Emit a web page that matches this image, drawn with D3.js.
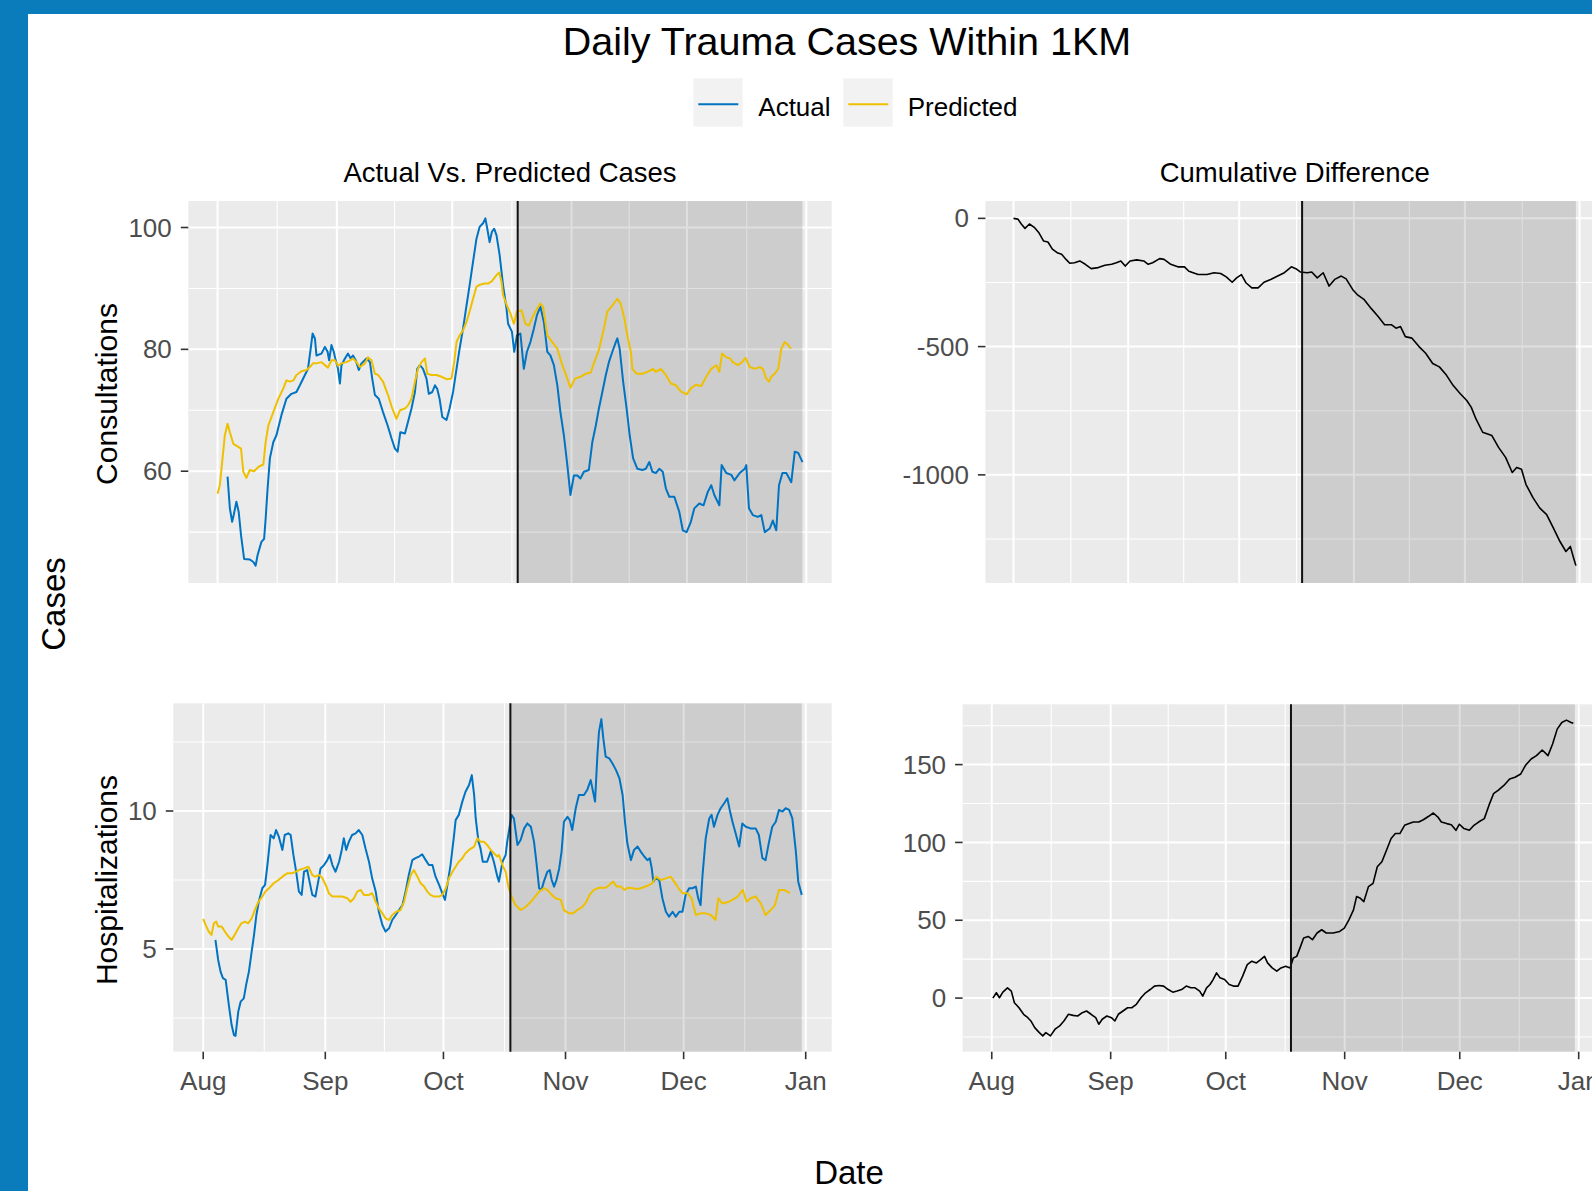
<!DOCTYPE html>
<html>
<head>
<meta charset="utf-8">
<script src="https://cdn.jsdelivr.net/npm/d3@7"></script>
<style>
  body { margin: 0; background: #fff; }
  svg { display: block; font-family: "Liberation Sans", Arial, sans-serif; }
</style>
</head>
<body>
<svg id="chart"></svg>
<script>
var width = 1592;
var height = 1191;

// days counted from Aug 1
var startDate = new Date(2020, 7, 1);
var cutoffDay = 78;     // Oct 18, start of the shaded period
var shadeEndDay = 152;  // Dec 31

var blue = "#0073C2";
var yellow = "#EFC000";

var seriesNames = ["Actual", "Predicted"];
var panelTitles = ["Actual Vs. Predicted Cases", "Cumulative Difference"];
var rowTitles = ["Consultations", "Hospitalizations"];

// [day, value]
var consActual = [[2.6,59.1],[3.2,53.9],[3.8,51.7],[4.2,52.8],[4.9,55.0],[5.5,53.3],[6.1,49.5],[6.9,45.6],[8.4,45.5],[9.3,45.1],[9.9,44.5],[10.4,46.2],[11.4,48.4],[12.1,48.9],[12.5,52.2],[13.0,57.1],[13.6,62.1],[14.5,64.8],[15.3,65.9],[16.6,69.2],[17.9,71.9],[19.2,72.7],[20.5,73.0],[21.4,74.1],[22.7,75.8],[23.5,76.8],[24.2,80.1],[24.7,82.6],[25.3,81.8],[25.7,79.0],[27.0,79.3],[27.9,80.4],[28.6,79.6],[29.0,78.2],[29.6,80.7],[30.2,79.6],[30.6,78.5],[31.3,76.8],[31.8,74.4],[32.2,77.4],[33.1,78.5],[33.9,79.3],[34.6,78.5],[35.2,79.0],[35.9,78.2],[36.7,76.6],[37.4,77.7],[38.7,78.5],[39.6,77.9],[40.2,75.2],[40.9,72.5],[41.9,71.9],[43.0,69.7],[44.2,67.5],[45.2,65.4],[46.1,63.7],[46.8,63.2],[47.5,66.4],[48.7,66.2],[49.5,68.1],[50.4,70.3],[51.3,73.0],[51.9,76.8],[52.6,77.4],[53.4,76.8],[54.3,75.2],[54.9,72.7],[55.8,73.0],[56.5,74.1],[57.1,73.5],[57.7,71.9],[58.4,68.9],[59.5,68.4],[60.3,70.3],[61.2,73.0],[62.1,76.8],[62.9,80.1],[63.8,83.4],[64.7,87.2],[65.5,90.5],[66.4,94.4],[67.3,98.2],[68.1,100.1],[69.0,100.7],[69.6,101.5],[70.1,99.8],[70.7,97.6],[71.3,99.3],[71.9,99.8],[72.5,98.7],[73.3,95.5],[74.2,90.5],[75.1,86.7],[75.5,84.2],[76.5,82.9],[77.1,79.6],[77.8,82.3],[78.7,82.6],[79.6,76.8],[80.4,79.6],[81.3,81.2],[82.2,83.4],[83.0,85.6],[83.9,87.0],[84.8,84.5],[85.7,79.6],[86.5,79.0],[87.4,77.4],[88.3,74.1],[89.1,69.7],[90.0,65.9],[90.9,61.0],[91.7,56.1],[92.6,59.3],[93.5,59.3],[94.3,58.8],[95.2,59.9],[96.5,60.2],[97.4,64.8],[98.3,67.5],[99.1,70.3],[100.0,73.0],[100.9,75.8],[101.7,77.9],[102.6,79.6],[103.5,81.2],[103.9,81.8],[104.5,80.1],[105.4,74.7],[106.3,70.3],[107.1,65.9],[108.0,62.1],[109.1,60.4],[110.4,60.2],[111.3,60.4],[112.2,61.5],[113.0,59.9],[113.9,59.7],[114.8,60.4],[115.7,59.9],[116.5,57.2],[117.4,55.8],[118.7,55.8],[120.0,53.3],[120.9,50.3],[121.9,50.0],[123.0,51.7],[123.9,53.9],[125.2,54.7],[126.3,54.4],[127.4,56.6],[128.3,57.7],[129.1,56.1],[130.4,54.4],[131.0,61.0],[132.2,59.7],[133.5,59.4],[134.3,58.5],[135.7,59.7],[137.0,60.4],[137.4,61.0],[138.1,53.9],[139.1,52.8],[140.4,52.5],[141.3,52.8],[142.2,50.0],[143.5,50.6],[144.3,51.9],[145.2,50.3],[145.9,57.7],[146.8,59.7],[147.8,59.7],[149.1,58.2],[150.0,63.2],[150.9,63.0],[152.0,61.5]];

var consPredicted = [[0,56.3],[0.6,57.7],[1.2,61.5],[1.9,65.9],[2.6,67.8],[3.2,66.4],[4.1,64.5],[5.4,64.0],[6.1,63.7],[6.7,59.9],[7.5,58.9],[8.4,60.2],[9.5,60.0],[10.6,60.7],[11.9,61.1],[12.5,64.8],[13.2,67.5],[14.5,69.7],[15.8,71.9],[17.1,73.6],[17.9,74.9],[18.8,74.7],[19.7,74.9],[20.5,75.8],[21.8,76.4],[23.1,76.6],[24.0,77.1],[24.8,77.7],[25.7,77.7],[27.0,77.9],[28.7,77.0],[29.6,78.2],[30.5,78.2],[31.3,77.3],[32.2,77.7],[33.5,77.9],[34.4,78.2],[35.2,78.5],[36.1,77.9],[37.0,77.1],[38.3,77.7],[39.1,78.7],[40.0,78.2],[40.9,76.0],[41.7,75.8],[43.0,74.7],[44.3,72.5],[45.4,70.3],[46.5,68.6],[47.4,70.0],[48.7,70.3],[49.5,70.8],[50.4,71.9],[51.3,74.7],[52.1,76.8],[53.0,77.9],[53.9,78.5],[54.5,76.0],[55.6,75.8],[56.9,75.8],[58.2,75.5],[59.5,75.1],[60.8,75.2],[61.5,77.9],[62.1,81.2],[62.9,82.3],[63.8,83.1],[64.7,84.5],[65.5,86.2],[66.4,88.3],[67.3,90.3],[68.1,90.6],[69.4,90.8],[70.3,90.8],[71.3,91.2],[72.5,92.2],[73.2,92.6],[73.8,91.1],[74.2,88.9],[75.2,87.2],[76.1,85.9],[77.0,84.2],[77.8,86.2],[79.0,86.4],[80.0,84.2],[80.9,83.9],[81.7,85.1],[82.6,86.2],[83.9,87.5],[84.6,87.0],[85.7,82.3],[87.0,81.2],[88.3,80.1],[89.6,77.4],[90.9,75.2],[91.7,73.7],[92.9,75.2],[94.3,75.5],[95.7,76.0],[97.0,76.2],[97.8,77.7],[99.1,79.9],[100.4,83.4],[101.3,86.2],[102.6,87.2],[103.9,88.3],[104.8,87.5],[105.7,85.1],[106.5,82.3],[107.4,79.6],[107.8,76.8],[108.9,76.0],[110.4,76.0],[111.7,76.3],[113.2,76.8],[113.9,76.3],[115.2,76.8],[116.5,75.8],[117.8,74.4],[119.1,74.1],[120.4,73.1],[121.9,72.6],[123.0,73.6],[124.3,74.2],[125.7,74.0],[127.0,75.5],[128.3,76.8],[129.6,77.4],[130.4,76.3],[131.1,79.3],[132.2,78.7],[133.2,78.5],[133.9,77.9],[135.2,77.4],[136.3,77.9],[137.2,78.6],[138.3,77.1],[139.6,76.8],[140.9,77.1],[141.7,76.8],[142.6,75.2],[143.3,74.7],[143.9,75.5],[144.8,76.0],[145.7,76.8],[146.5,80.1],[147.4,81.2],[148.3,80.7],[149.0,80.1]];

var hospActual = [[3.1,5.33],[3.8,4.60],[4.4,4.18],[5.0,3.94],[5.7,3.88],[6.5,2.97],[7.2,2.25],[7.8,1.88],[8.2,1.85],[8.9,2.73],[9.5,3.09],[10.3,3.21],[10.9,3.70],[11.6,4.18],[12.3,4.90],[12.9,5.51],[13.5,6.23],[14.1,6.71],[15.0,7.20],[15.7,7.32],[16.3,8.04],[17.1,9.13],[17.9,9.01],[18.5,9.31],[19.2,9.07],[20.1,8.59],[20.7,9.13],[21.6,9.19],[22.2,9.13],[22.9,8.41],[23.6,7.80],[24.3,7.08],[25.0,6.96],[25.6,7.80],[26.4,7.86],[27.0,7.44],[27.7,6.96],[28.5,6.90],[29.2,7.44],[29.8,7.92],[30.7,8.04],[31.5,8.22],[32.1,8.41],[32.8,8.04],[33.6,7.80],[34.5,8.16],[35.1,8.53],[35.7,9.01],[36.3,8.59],[37.0,8.89],[37.8,9.13],[38.7,9.19],[39.5,9.31],[40.4,9.13],[41.2,8.65],[42.1,8.16],[42.9,7.56],[43.8,7.08],[44.6,6.35],[45.5,5.87],[46.3,5.63],[47.2,5.75],[48.0,6.05],[48.9,6.23],[49.7,6.41],[50.6,6.59],[51.4,7.08],[52.2,7.68],[53.1,8.22],[53.9,8.29],[54.8,8.35],[55.6,8.43],[56.5,8.22],[57.3,8.04],[58.2,8.04],[59.0,7.62],[59.9,7.32],[60.7,7.02],[61.4,6.78],[62.0,7.32],[62.8,8.04],[63.7,9.13],[64.1,9.67],[64.9,9.86],[65.8,10.34],[66.6,10.70],[67.5,10.94],[68.2,11.30],[68.8,10.58],[69.2,9.73],[69.9,8.89],[70.4,8.65],[71.0,8.16],[72.1,8.16],[73.0,8.53],[73.8,8.16],[74.7,7.62],[75.1,7.44],[76.0,8.16],[76.8,8.41],[77.2,8.89],[78.3,9.86],[78.9,9.73],[79.8,8.77],[80.6,8.95],[81.5,9.37],[82.3,9.55],[83.2,9.43],[84.0,8.89],[84.6,8.16],[85.3,7.20],[85.9,7.14],[86.5,7.44],[87.4,7.80],[88.0,7.86],[88.5,7.50],[89.1,7.26],[89.7,7.50],[90.4,7.92],[91.0,8.53],[91.6,9.61],[92.5,9.79],[93.1,9.67],[93.7,9.31],[94.6,10.10],[95.4,10.58],[96.7,10.58],[97.5,10.76],[98.4,11.12],[99.0,10.70],[99.5,10.34],[100.1,12.03],[100.5,12.87],[101.1,13.33],[101.6,12.63],[102.2,11.97],[103.1,11.91],[103.9,11.73],[104.8,11.49],[105.7,11.18],[106.5,10.58],[107.1,9.61],[107.7,8.83],[108.6,8.22],[109.4,8.59],[110.3,8.71],[111.1,8.53],[112.0,8.35],[112.8,8.22],[113.4,8.29],[113.9,7.92],[114.3,7.44],[114.9,7.56],[115.8,7.50],[116.6,6.84],[117.5,6.35],[118.3,6.17],[119.2,6.35],[120.0,6.17],[120.9,6.35],[121.7,6.35],[122.5,6.96],[123.4,7.20],[124.2,7.20],[125.1,7.26],[125.7,6.84],[126.3,6.59],[126.8,7.68],[127.6,9.01],[128.5,9.73],[129.1,9.86],[129.7,9.43],[130.6,9.86],[131.4,10.10],[132.3,10.28],[133.1,10.46],[133.7,10.04],[134.4,9.61],[135.2,9.19],[136.1,8.71],[136.9,9.55],[137.8,9.43],[139.0,9.37],[140.3,9.37],[141.1,9.13],[142.0,8.29],[142.8,8.22],[143.7,8.89],[144.5,9.43],[145.4,9.61],[146.2,10.04],[147.1,9.98],[147.9,10.10],[148.8,10.04],[149.6,9.73],[150.5,8.53],[151.1,7.44],[152.0,6.96]];

var hospPredicted = [[0,6.09],[0.6,5.87],[1.4,5.63],[2.1,5.51],[2.7,5.93],[3.3,5.99],[3.8,5.81],[4.7,5.81],[5.5,5.63],[6.4,5.45],[7.2,5.33],[8.0,5.51],[8.9,5.75],[9.7,5.93],[10.6,5.99],[11.4,5.93],[12.3,6.11],[13.1,6.41],[14.0,6.71],[15.0,6.90],[15.8,7.08],[16.7,7.20],[17.9,7.38],[19.1,7.50],[20.1,7.62],[21.3,7.74],[22.6,7.74],[23.5,7.80],[24.3,7.86],[25.6,7.92],[26.7,7.98],[27.7,7.68],[28.5,7.62],[29.4,7.68],[30.2,7.58],[31.1,7.32],[31.9,7.02],[32.8,6.90],[34.0,6.90],[35.3,6.90],[36.6,6.84],[37.4,6.71],[38.3,6.84],[39.1,7.08],[40.0,7.14],[40.8,6.96],[42.1,6.96],[42.9,7.02],[43.8,6.71],[44.6,6.47],[45.5,6.29],[46.3,6.11],[47.2,6.05],[48.0,6.23],[49.0,6.35],[50.1,6.41],[51.0,6.71],[51.8,7.20],[52.7,7.68],[53.5,7.86],[54.4,7.62],[55.2,7.38],[56.1,7.26],[56.9,7.08],[57.7,6.96],[58.6,6.90],[59.9,6.90],[60.7,6.96],[61.6,7.20],[62.4,7.56],[63.3,7.80],[64.1,7.98],[64.9,8.16],[65.8,8.29],[66.6,8.47],[67.5,8.59],[68.8,8.71],[69.6,9.01],[70.4,8.89],[71.3,8.89],[72.1,8.77],[73.0,8.59],[73.8,8.47],[74.7,8.35],[75.1,8.41],[76.0,8.04],[76.8,7.80],[77.5,7.26],[78.3,6.90],[79.3,6.59],[80.6,6.41],[81.9,6.53],[83.2,6.71],[84.3,6.90],[85.3,7.08],[86.5,7.20],[87.4,7.14],[88.5,6.96],[89.5,6.84],[90.8,6.78],[91.6,6.41],[92.9,6.29],[93.9,6.29],[95.0,6.41],[96.3,6.53],[97.3,6.71],[98.1,6.96],[99.2,7.14],[100.5,7.22],[102.2,7.22],[103.1,7.32],[104.1,7.44],[105.0,7.26],[106.1,7.26],[106.9,7.14],[107.8,7.22],[109.0,7.20],[110.3,7.17],[111.5,7.22],[112.8,7.29],[114.0,7.38],[115.0,7.62],[116.2,7.50],[117.5,7.56],[118.7,7.62],[119.6,7.44],[120.7,7.20],[121.7,7.02],[123.0,7.02],[124.0,6.84],[125.1,6.23],[126.3,6.29],[127.6,6.29],[128.9,6.23],[130.1,6.05],[130.8,6.84],[131.8,6.65],[133.1,6.69],[134.4,6.78],[135.7,6.90],[137.0,7.14],[138.0,6.71],[139.0,6.84],[140.3,6.90],[141.6,6.65],[142.8,6.23],[144.1,6.41],[145.2,6.59],[146.2,7.14],[147.5,7.14],[149.0,7.02]];

var consCumDiff = [[0,0],[1.2,-3],[2.1,-22],[3.1,-39],[4.3,-22],[5.6,-35],[6.8,-55],[8.1,-88],[9.3,-92],[10.5,-120],[11.8,-134],[13.0,-140],[14.2,-160],[15.2,-175],[16.5,-173],[17.9,-166],[19.4,-179],[21.0,-196],[22.9,-192],[24.7,-183],[26.5,-179],[27.8,-173],[29.0,-166],[30.2,-186],[31.5,-166],[33.3,-162],[35.2,-166],[36.4,-179],[37.6,-173],[39.5,-157],[40.7,-160],[42.5,-179],[44.4,-189],[46.2,-189],[47.4,-206],[49.9,-219],[52.3,-219],[54.2,-212],[56.0,-215],[57.5,-228],[59.1,-249],[60.3,-232],[61.6,-219],[62.8,-251],[64.4,-271],[66.1,-271],[67.7,-249],[69.5,-238],[71.4,-225],[73.2,-212],[75.1,-189],[76.3,-196],[77.5,-209],[79.4,-212],[80.6,-209],[82.1,-232],[83.7,-212],[85.3,-264],[86.8,-238],[88.6,-225],[89.9,-236],[91.7,-278],[92.9,-297],[94.8,-317],[96.6,-350],[98.5,-382],[100.3,-415],[102.2,-415],[103.4,-428],[104.6,-422],[105.9,-461],[107.7,-467],[109.6,-500],[111.4,-526],[113.3,-566],[115.1,-579],[117.0,-611],[118.8,-651],[120.7,-683],[122.5,-710],[123.7,-736],[125.0,-782],[126.8,-834],[129.3,-847],[131.1,-893],[133.0,-932],[134.8,-991],[136.0,-971],[137.3,-978],[138.5,-1037],[140.4,-1089],[142.2,-1129],[144.1,-1155],[145.9,-1207],[147.7,-1260],[149.3,-1299],[150.5,-1279],[151.4,-1325],[152.0,-1354]];

var hospCumDiff = [[0.3,0],[1.2,3.4],[2.0,0.2],[2.9,3.8],[4.1,6.6],[5.1,4.5],[5.9,-3.0],[7.1,-6.2],[8.3,-10.4],[9.4,-12.6],[10.2,-14.7],[11.2,-19.0],[12.4,-22.2],[13.3,-24.3],[14.1,-22.2],[15.3,-24.3],[16.5,-20.0],[17.7,-17.9],[18.8,-14.7],[20.0,-10.4],[21.2,-11.1],[22.4,-11.5],[23.6,-9.4],[24.7,-8.3],[25.9,-10.4],[27.1,-12.6],[27.9,-16.8],[28.8,-13.6],[30.0,-11.5],[31.2,-12.6],[32.1,-14.7],[33.0,-10.4],[34.2,-8.3],[35.4,-6.2],[36.5,-6.2],[37.7,-4.0],[38.9,0.2],[40.1,3.4],[41.3,5.5],[42.4,7.7],[43.6,8.1],[44.8,7.7],[46.0,5.5],[47.2,3.8],[48.3,4.5],[49.5,5.5],[50.7,7.7],[51.9,6.6],[53.0,6.6],[54.2,4.5],[55.0,1.3],[56.0,6.6],[56.9,8.7],[57.7,11.9],[58.6,16.2],[59.5,13.0],[60.7,11.9],[61.9,8.7],[63.0,7.7],[64.2,7.7],[65.4,14.1],[66.6,21.5],[67.8,23.7],[69.0,22.6],[70.1,24.7],[71.1,26.8],[71.9,22.6],[73.1,19.4],[74.3,17.3],[75.4,19.4],[76.6,20.5],[77.8,19.4],[78.6,25.8],[79.5,26.8],[80.5,33.2],[81.3,38.6],[82.5,39.6],[83.6,37.5],[84.8,41.8],[86.0,43.9],[87.2,41.8],[89.0,41.8],[90.7,42.8],[91.9,45.0],[93.1,50.3],[94.3,56.7],[95.1,65.2],[96.1,64.1],[97.0,62.0],[98.2,71.6],[99.4,73.7],[100.5,84.4],[101.7,87.6],[102.9,95.0],[104.1,102.5],[105.2,105.7],[106.4,105.7],[107.6,111.0],[108.8,112.1],[109.9,113.1],[111.3,113.1],[112.5,114.6],[113.9,116.8],[115.1,118.9],[116.3,116.3],[117.2,113.1],[118.6,112.1],[119.8,111.4],[121.0,107.8],[121.9,111.7],[123.1,108.9],[124.5,107.8],[125.7,111.0],[126.9,113.1],[128.4,115.3],[129.6,123.8],[130.8,131.3],[132.0,133.4],[133.5,136.6],[135.0,140.8],[136.4,141.9],[137.9,144.0],[139.1,149.4],[140.6,153.6],[142.0,155.8],[143.5,159.4],[145.0,155.8],[146.2,163.2],[147.4,172.8],[148.6,177.1],[149.8,178.6],[151.0,177.1],[151.6,176.5]];

var dayToDate = d => new Date(startDate.getTime() + d * 864e5);

var svg = d3.select("#chart")
    .attr("width", width)
    .attr("height", height)
    .attr("viewBox", [0, 0, width, height]);

svg.append("rect").attr("width", width).attr("height", height).attr("fill", "#fff");
// blue frame of the screenshot
svg.append("rect").attr("width", width).attr("height", 14).attr("fill", "#0a7cbc");
svg.append("rect").attr("width", 28).attr("height", height).attr("fill", "#0a7cbc");

var panels = [
    {left: 188.3, right: 831.7, top: 201, bottom: 583, yTicks: 3, xAxis: false,
        series: [{data: consActual, color: blue, w: 2}, {data: consPredicted, color: yellow, w: 2}]},
    {left: 985.4, right: 1604, top: 201, bottom: 583, yTicks: 3, xAxis: false,
        series: [{data: consCumDiff, color: "#000", w: 1.6}]},
    {left: 173.3, right: 831.7, top: 703.3, bottom: 1051.7, yTicks: 3, xAxis: true,
        series: [{data: hospActual, color: blue, w: 2}, {data: hospPredicted, color: yellow, w: 2}]},
    {left: 962.6, right: 1604, top: 704.3, bottom: 1051.7, yTicks: 4, xAxis: true,
        series: [{data: hospCumDiff, color: "#000", w: 1.6}]}
];

panels.forEach((p, i) => drawPanel(p, i));

function drawPanel(p, i) {
    // ggplot-like 5% expansion on both scales
    var xExt = [0, shadeEndDay];
    var xPad = (xExt[1] - xExt[0]) * 0.05;
    var x = d3.scaleTime()
        .domain([dayToDate(xExt[0] - xPad), dayToDate(xExt[1] + xPad)])
        .range([p.left, p.right]);

    var allVals = p.series.flatMap(s => s.data.map(d => d[1]));
    var yExt = d3.extent(allVals);
    var yPad = (yExt[1] - yExt[0]) * 0.05;
    var y = d3.scaleLinear()
        .domain([yExt[0] - yPad, yExt[1] + yPad])
        .range([p.bottom, p.top]);

    var g = svg.append("g");
    var clipId = "clip" + i;
    g.append("clipPath").attr("id", clipId)
      .append("rect")
        .attr("x", p.left).attr("y", p.top)
        .attr("width", p.right - p.left).attr("height", p.bottom - p.top);

    g.append("rect")
        .attr("x", p.left).attr("y", p.top)
        .attr("width", p.right - p.left).attr("height", p.bottom - p.top)
        .attr("fill", "#EBEBEB");

    // grid
    var yMajor = y.ticks(p.yTicks);
    var yStep = yMajor[1] - yMajor[0];
    var yMinor = [yMajor[0] - yStep / 2].concat(yMajor.map(v => v + yStep / 2))
        .filter(v => v > y.domain()[0] && v < y.domain()[1]);
    var xMajor = x.ticks(d3.timeMonth.every(1));
    var xMinor = d3.pairs(xMajor).map(([a, b]) => new Date((+a + +b) / 2));

    var grid = g.append("g").attr("clip-path", `url(#${clipId})`).attr("stroke", "#fff");
    grid.selectAll(".ymin").data(yMinor).join("line")
        .attr("x1", p.left).attr("x2", p.right)
        .attr("y1", d => y(d)).attr("y2", d => y(d))
        .attr("stroke-width", 1.1);
    grid.selectAll(".xmin").data(xMinor).join("line")
        .attr("y1", p.top).attr("y2", p.bottom)
        .attr("x1", d => x(d)).attr("x2", d => x(d))
        .attr("stroke-width", 1.1);
    grid.selectAll(".ymaj").data(yMajor).join("line")
        .attr("x1", p.left).attr("x2", p.right)
        .attr("y1", d => y(d)).attr("y2", d => y(d))
        .attr("stroke-width", 2);
    grid.selectAll(".xmaj").data(xMajor).join("line")
        .attr("y1", p.top).attr("y2", p.bottom)
        .attr("x1", d => x(d)).attr("x2", d => x(d))
        .attr("stroke-width", 2);

    // shaded period after the cut-off
    g.append("rect")
        .attr("x", x(dayToDate(cutoffDay)))
        .attr("width", x(dayToDate(shadeEndDay)) - x(dayToDate(cutoffDay)))
        .attr("y", p.top).attr("height", p.bottom - p.top)
        .attr("fill", "#000").attr("fill-opacity", 0.125);

    var line = d3.line()
        .x(d => x(dayToDate(d[0])))
        .y(d => y(d[1]));

    g.append("g").attr("clip-path", `url(#${clipId})`)
      .selectAll("path")
      .data(p.series)
      .join("path")
        .attr("fill", "none")
        .attr("stroke", s => s.color)
        .attr("stroke-width", s => s.w)
        .attr("stroke-linejoin", "round")
        .attr("d", s => line(s.data));

    g.append("line")
        .attr("x1", x(dayToDate(cutoffDay))).attr("x2", x(dayToDate(cutoffDay)))
        .attr("y1", p.top).attr("y2", p.bottom)
        .attr("stroke", "#111").attr("stroke-width", 2);

    // y axis
    var yAxis = g.append("g");
    yAxis.selectAll("line").data(yMajor).join("line")
        .attr("x1", p.left - 7.5).attr("x2", p.left)
        .attr("y1", d => y(d)).attr("y2", d => y(d))
        .attr("stroke", "#333").attr("stroke-width", 1.6);
    yAxis.selectAll("text").data(yMajor).join("text")
        .attr("x", p.left - 16.5)
        .attr("y", d => y(d))
        .attr("dy", "0.35em")
        .attr("text-anchor", "end")
        .attr("fill", "#4D4D4D")
        .style("font-size", "26px")
        .text(d => d);

    if (p.xAxis) {
        var xAxis = g.append("g");
        xAxis.selectAll("line").data(xMajor).join("line")
            .attr("x1", d => x(d)).attr("x2", d => x(d))
            .attr("y1", p.bottom).attr("y2", p.bottom + 7.5)
            .attr("stroke", "#333").attr("stroke-width", 1.6);
        xAxis.selectAll("text").data(xMajor).join("text")
            .attr("x", d => x(d))
            .attr("y", p.bottom + 38)
            .attr("text-anchor", "middle")
            .attr("fill", "#4D4D4D")
            .style("font-size", "26px")
            .text(d => d3.timeFormat("%b")(d));
    }
}

// titles
svg.append("text")
    .attr("x", 847).attr("y", 55)
    .attr("text-anchor", "middle")
    .style("font-size", "39.5px")
    .text("Daily Trauma Cases Within 1KM");

[[panels[0], panelTitles[0]], [panels[1], panelTitles[1]]].forEach(([p, t]) => {
    svg.append("text")
        .attr("x", (p.left + p.right) / 2).attr("y", 181.7)
        .attr("text-anchor", "middle")
        .style("font-size", "27.5px")
        .text(t);
});

[[394, rowTitles[0]], [880, rowTitles[1]]].forEach(([cy, t]) => {
    svg.append("text")
        .attr("transform", `translate(116.7,${cy}) rotate(-90)`)
        .attr("text-anchor", "middle")
        .style("font-size", "30px")
        .text(t);
});

svg.append("text")
    .attr("transform", "translate(65,604) rotate(-90)")
    .attr("text-anchor", "middle")
    .style("font-size", "33px")
    .text("Cases");

svg.append("text")
    .attr("x", 849).attr("y", 1184)
    .attr("text-anchor", "middle")
    .style("font-size", "33px")
    .text("Date");

// legend
var legend = svg.append("g");
var legendKeys = [{x: 693.3, tx: 758.3, color: blue}, {x: 843.3, tx: 907.7, color: yellow}];
legendKeys.forEach((k, i) => {
    legend.append("rect")
        .attr("x", k.x).attr("y", 78.3)
        .attr("width", 49.4).attr("height", 48.4)
        .attr("fill", "#F2F2F2");
    legend.append("line")
        .attr("x1", k.x + 5).attr("x2", k.x + 45)
        .attr("y1", 104.3).attr("y2", 104.3)
        .attr("stroke", k.color).attr("stroke-width", 2);
    legend.append("text")
        .attr("x", k.tx).attr("y", 115.7)
        .style("font-size", "26px")
        .text(seriesNames[i]);
});
</script>
</body>
</html>
